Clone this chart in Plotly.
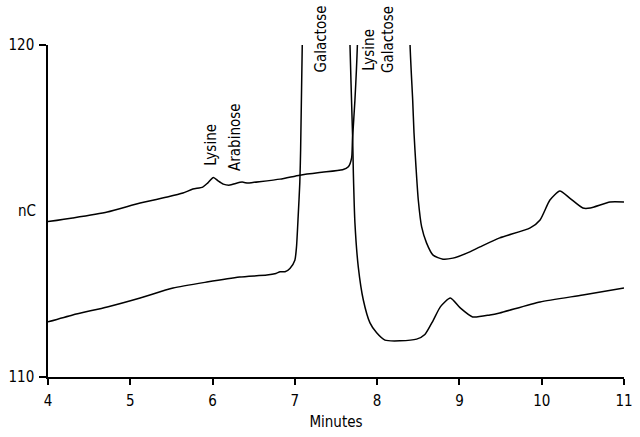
import plotly.graph_objects as go

# Upper chromatogram (time in minutes, signal in nC)
upper_t = [4.00, 4.30, 4.72, 5.12, 5.45, 5.64, 5.76, 5.88, 5.94, 6.01, 6.07, 6.13, 6.21, 6.28,
           6.36, 6.43, 6.49, 6.82, 7.06, 7.30, 7.58, 7.65, 7.69, 7.70, 7.73, 7.76, 8.08, 8.40,
           8.432, 8.448, 8.472, 8.50, 8.541, 8.60, 8.68, 8.80, 8.92, 9.09, 9.25, 9.49, 9.86,
           9.98, 10.10, 10.22, 10.34, 10.50, 10.59, 10.83, 11.00]
upper_v = [114.68, 114.79, 114.97, 115.24, 115.42, 115.54, 115.66, 115.72, 115.84, 116.01,
           115.90, 115.81, 115.78, 115.83, 115.87, 115.84, 115.86, 115.96, 116.08, 116.16,
           116.24, 116.33, 116.60, 117.14, 118.34, 120.0, 160.0, 120.0, 118.34, 117.35,
           116.33, 115.33, 114.52, 114.04, 113.67, 113.55, 113.58, 113.73, 113.92, 114.19,
           114.49, 114.73, 115.33, 115.60, 115.39, 115.09, 115.09, 115.27, 115.27]

# Lower chromatogram
lower_t = [4.00, 4.30, 4.72, 5.12, 5.52, 5.93, 6.33, 6.66, 6.77, 6.82, 6.88, 6.94, 7.00, 7.02,
           7.04, 7.06, 7.07, 7.09, 7.38, 7.67, 7.703, 7.711, 7.73, 7.771, 7.832, 7.913, 7.994,
           8.095, 8.277, 8.48, 8.58, 8.68, 8.77, 8.89, 9.01, 9.16, 9.37, 9.49, 9.98, 10.50, 11.00]
lower_v = [111.66, 111.87, 112.11, 112.38, 112.68, 112.86, 113.01, 113.07, 113.12, 113.17,
           113.17, 113.27, 113.52, 113.92, 114.83, 115.84, 116.84, 120.0, 160.0, 120.0,
           117.14, 116.14, 114.64, 113.31, 112.32, 111.63, 111.33, 111.11, 111.09, 111.14,
           111.28, 111.70, 112.12, 112.38, 112.08, 111.81, 111.87, 111.93, 112.26, 112.47,
           112.68]

x_ticks = [4, 5, 6, 7, 8, 9, 10, 11]
y_ticks = [110, 120]

peak_names = ["Lysine", "Arabinose", "Galactose", "Lysine", "Galactose"]
peak_t = [5.98, 6.27, 7.32, 7.90, 8.14]
peak_v = [116.3, 116.14, 119.1, 119.16, 119.1]

FONT = "Liberation Sans Narrow, DejaVu Sans Condensed, Arial Narrow, sans-serif"

fig = go.Figure()
for t, v in [(upper_t, upper_v), (lower_t, lower_v)]:
    fig.add_trace(go.Scatter(x=t, y=v, mode="lines",
                             line=dict(color="black", width=1.5, shape="spline", smoothing=0.6),
                             showlegend=False, hoverinfo="skip"))

for name, t, v in zip(peak_names, peak_t, peak_v):
    fig.add_annotation(x=t, y=v, text=name, textangle=-90, showarrow=False,
                       xanchor="center", yanchor="bottom",
                       font=dict(family=FONT, size=15, color="black"))

fig.add_annotation(xref="paper", x=0, y=115, text="nC", showarrow=False,
                   xanchor="right", xshift=-10, font=dict(family=FONT, size=15, color="black"))

fig.update_layout(
    width=640, height=437,
    margin=dict(l=48, r=16, t=45, b=60),
    paper_bgcolor="white", plot_bgcolor="white",
    font=dict(family=FONT, size=15, color="black"),
    xaxis=dict(range=[4, 11], tickvals=x_ticks, ticks="outside", ticklen=6, tickwidth=1.5,
               tickcolor="black", showline=True, linecolor="black", linewidth=1.5,
               showgrid=False, zeroline=False, automargin=False, ticklabelstandoff=3,
               title=dict(text="Minutes", standoff=8, font=dict(family=FONT, size=15))),
    yaxis=dict(range=[110, 120], tickvals=y_ticks, ticks="outside", ticklen=7, tickwidth=1.5,
               tickcolor="black", showline=True, linecolor="black", linewidth=1.5,
               showgrid=False, zeroline=False, automargin=False, ticklabelstandoff=2),
)

fig.write_html("out.html", config={"displayModeBar": False},
               post_script="document.body.style.margin='0';document.body.style.overflow='hidden';")
